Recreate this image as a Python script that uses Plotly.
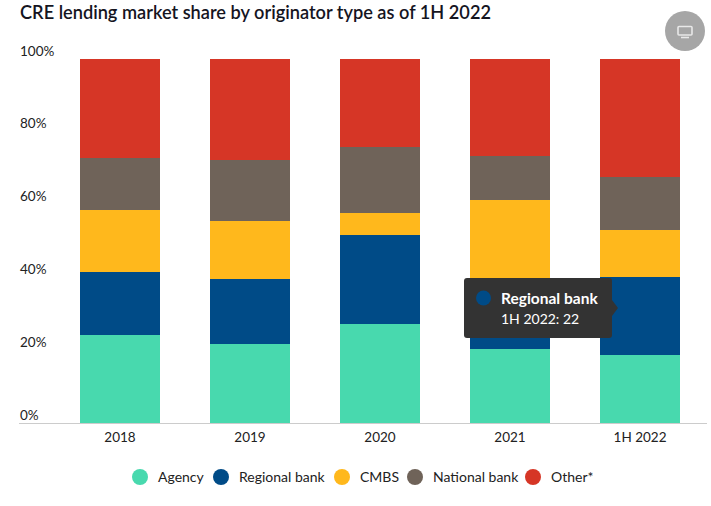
import plotly.graph_objects as go

W, H = 711, 506
FONT = "Lato"
INK = "#222222"

categories = ["2018", "2019", "2020", "2021", "1H 2022"]
agency = [24.3, 21.8, 27.3, 20.4, 18.7]
regional = [17.3, 17.8, 24.4, 19.0, 21.5]
cmbs = [17.0, 15.9, 6.0, 21.9, 12.9]
national = [14.3, 16.7, 18.1, 12.1, 14.5]
other = [27.1, 27.8, 24.2, 26.6, 32.4]
series_names = ["Agency", "Regional bank", "CMBS", "National bank", "Other*"]
series_values = [agency, regional, cmbs, national, other]
series_colors = ["#48D9AE", "#004B87", "#FFB81C", "#6F6359", "#D63626"]
y_ticks = [0, 20, 40, 60, 80, 100]
title_text = "CRE lending market share by originator type as of 1H 2022"
tooltip_series = "Regional bank"
tooltip_line = "1H 2022: 22"


def px(x):
    return x / W


def py(y):
    return 1 - y / H


def rounded(x0, y0, x1, y1, r):
    return (
        f"M{px(x0 + r)},{py(y0)} L{px(x1 - r)},{py(y0)} "
        f"Q{px(x1)},{py(y0)} {px(x1)},{py(y0 + r)} L{px(x1)},{py(y1 - r)} "
        f"Q{px(x1)},{py(y1)} {px(x1 - r)},{py(y1)} L{px(x0 + r)},{py(y1)} "
        f"Q{px(x0)},{py(y1)} {px(x0)},{py(y1 - r)} L{px(x0)},{py(y0 + r)} "
        f"Q{px(x0)},{py(y0)} {px(x0 + r)},{py(y0)} Z"
    )


def circle(cx, cy, r, color):
    return dict(type="circle", xref="paper", yref="paper",
                x0=px(cx - r), x1=px(cx + r), y0=py(cy + r), y1=py(cy - r),
                fillcolor=color, line=dict(width=0), layer="above")


def text(x, y, s, size=14, color=INK, anchor="left", weight=None):
    f = dict(family=FONT, size=size, color=color)
    if weight:
        f["weight"] = weight
    return dict(xref="paper", yref="paper", x=px(x), y=py(y), text=s, showarrow=False,
                xanchor=anchor, yanchor="middle", font=f)


fig = go.Figure()
for name, vals, col in zip(series_names, series_values, series_colors):
    fig.add_bar(name=name, x=categories, y=vals, marker=dict(color=col, line=dict(width=0)))

shapes = [
    dict(type="line", xref="paper", yref="paper", x0=px(19), x1=px(707), y0=py(423.5), y1=py(423.5),
         line=dict(color="#cccccc", width=1), layer="above"),
    circle(685, 31, 20, "#a6a6a6"),
    dict(type="path", xref="paper", yref="paper",
         path=rounded(678, 26.5, 692, 35, 1), fillcolor="rgba(0,0,0,0)",
         line=dict(color="#e8e8e8", width=1.6), layer="above"),
    dict(type="line", xref="paper", yref="paper", x0=px(681), x1=px(689), y0=py(37.5), y1=py(37.5),
         line=dict(color="#e8e8e8", width=1.6), layer="above"),
    dict(type="path", xref="paper", yref="paper", path=rounded(464, 278, 612, 338, 3),
         fillcolor="#333333", line=dict(width=0), layer="above"),
    dict(type="path", xref="paper", yref="paper",
         path=f"M{px(612)},{py(300)} L{px(618)},{py(308)} L{px(612)},{py(316)} Z",
         fillcolor="#333333", line=dict(width=0), layer="above"),
    circle(483.5, 298, 7.5, "#004B87"),
]

annotations = [
    text(17.5, 12, title_text, 18.2, "#15151f", weight=600),
    text(498.5, 298, f"<b>{tooltip_series}</b>", 15.5, "#ffffff"),
    text(498.5, 318, tooltip_line, 14, "#ffffff"),
]

for t in y_ticks:
    annotations.append(dict(xref="paper", yref="y", x=px(18), y=t, text=f"{t}%", showarrow=False,
                            xanchor="left", yanchor="middle", yshift=8.5,
                            font=dict(family=FONT, size=13.5, color=INK)))

legend_dots = [140, 221, 342, 415, 533]
for name, col, lx in zip(series_names, series_colors, legend_dots):
    shapes.append(circle(lx, 477, 8, col))
    annotations.append(text(lx + 15.5, 476, name, 14))

fig.update_layout(
    width=W, height=H, autosize=False,
    margin=dict(l=0, r=0, t=0, b=0),
    barmode="stack", bargap=0.385,
    showlegend=False,
    paper_bgcolor="#ffffff", plot_bgcolor="#ffffff",
    font=dict(family=FONT, size=14, color=INK),
    xaxis=dict(domain=[55 / W, 705 / W], showgrid=False, showline=False, ticks="outside",
               tickcolor="rgba(0,0,0,0)", ticklen=1, tickwidth=0,
               tickfont=dict(family=FONT, size=13.5, color=INK)),
    yaxis=dict(domain=[1 - 423.5 / H, 1 - 59 / H], range=[0, 100], showgrid=False, zeroline=False,
               showticklabels=False, ticks="", tickvals=y_ticks),
    shapes=shapes,
    annotations=annotations,
)

fig.write_html("out.html", config={"displayModeBar": False},
               post_script="document.body.style.margin='0';")
